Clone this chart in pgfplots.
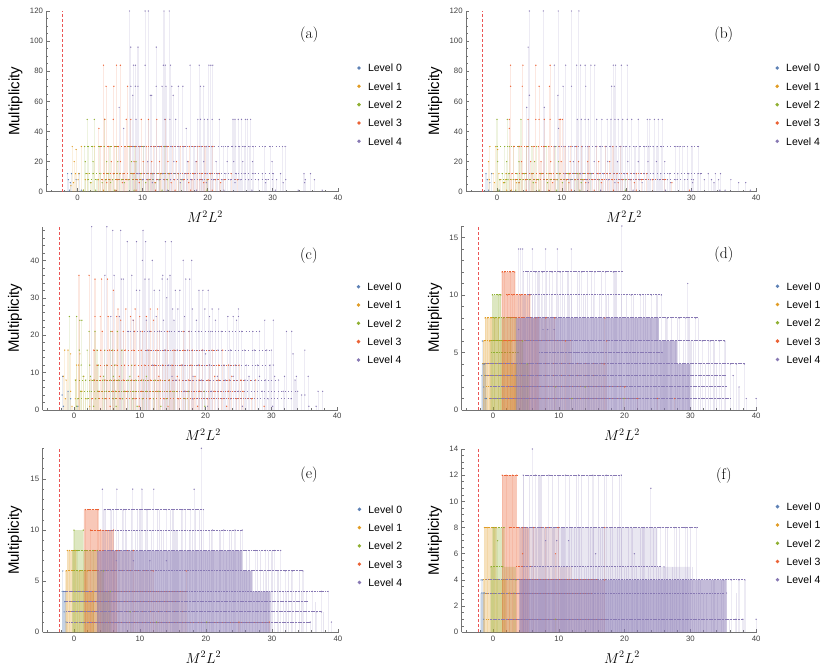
\documentclass[border=0pt]{standalone}
\usepackage{fontspec}
\setsansfont{Liberation Sans}
\usepackage{pgfplots}
\pgfplotsset{compat=1.18}
\definecolor{c0}{RGB}{94,129,181}
\definecolor{c1}{RGB}{225,156,36}
\definecolor{c2}{RGB}{143,176,50}
\definecolor{c3}{RGB}{235,98,53}
\definecolor{c4}{RGB}{135,120,179}
\definecolor{dashred}{RGB}{235,85,85}
\pgfplotsset{
 panel/.style={
  scale only axis, anchor=south west,
  axis lines=left, axis line style={-, draw=black!55, line width=0.5pt},
  xmin=-4.75, xmax=40.1, ymin=0,
  xtick={0,10,20,30,40}, minor xtick={-4,-2,...,40},
  tick style={black!55, line width=0.5pt},
  major tick length=3.2pt, minor tick length=1.8pt,
  tick align=inside,
  tick label style={font=\sffamily\fontsize{7.8}{9}\selectfont, text=black!75},
  /pgf/number format/assume math mode=true,
  xlabel={$M^2L^2$}, ylabel={Multiplicity},
  xlabel style={font=\fontsize{14}{16}\selectfont, at={(rel axis cs:0.543,0)}, anchor=center, yshift=-25pt},
  clip=false,
  legend style={draw=none, fill=none, inner sep=0pt, font=\sffamily\fontsize{10.5}{12}\selectfont,
    row sep=10.5pt, anchor=north west, legend cell align=left,
    nodes={inner sep=0pt, text height=7.8pt, text depth=0pt}},
  legend image code/.code={\fill[##1, draw=none] (1.5pt,0pt) circle (1.9pt); \path[draw=none, fill=none] (0pt,-1.6pt) rectangle (10.5pt,1.6pt);},
 },
 ylab/.style={ylabel style={font=\sffamily\fontsize{15}{17}\selectfont, at={(rel axis cs:0,0.5)}, anchor=center, yshift=#1}},
 leg/.style={legend style={at={(rel axis cs:1.063,#1)}}},
 stem/.style={ycomb, forget plot, line width=1.1pt, draw opacity=0.15, mark=*, mark size=0.7pt, mark options={draw opacity=0, fill opacity=1}},
 bare/.style={ycomb, forget plot, line width=1.1pt, draw opacity=0.2, no marks},
 rowl/.style={forget plot, no marks, line width=1.0pt, dash pattern=on 1.1pt off 0.5pt},
 ar/.style={forget plot, draw=none, fill opacity=#1},
}
\newcommand\hrow[4]{\addplot[#1, rowl] coordinates {(#2,#4) (#3,#4)};}
\newcommand\srow[4]{\addplot[#1, forget plot, no marks, line width=1pt, dash pattern=on 1pt off 2.4pt] coordinates {(#2,#4) (#3,#4)};}
\newcommand\legs{%
 \addlegendimage{c0}\addlegendentry{Level 0}
 \addlegendimage{c1}\addlegendentry{Level 1}
 \addlegendimage{c2}\addlegendentry{Level 2}
 \addlegendimage{c3}\addlegendentry{Level 3}
 \addlegendimage{c4}\addlegendentry{Level 4}}
\begin{document}
\begin{tikzpicture}[x=1pt,y=1pt]
\useasboundingbox (0,0) rectangle (830,671);
% ---------------- (a)
\begin{axis}[panel, at={(46.5pt,479.3pt)}, width=292pt, height=180.7pt, ymax=120,
  ytick={0,20,...,120}, minor ytick={0,5,...,120}, ylab=31pt, leg=0.707]
\legs
\addplot[dashred, line width=0.6pt, dash pattern=on 3pt off 2pt, forget plot] coordinates {(-2.25,0) (-2.25,120)};
\addplot[stem, c0] coordinates {(-1.5,12)(-0.9,12)(-1.4,8)(-1.1,6)(-0.2,8)(0.3,12)(-1.2,1)(0.6,1)};
\addplot[stem, c1] coordinates {(-0.8,30)(-0.5,20)(-0.2,28)(0.6,30)(-0.3,12)(0.2,12)(0.1,8)(1.2,8)(-0.6,6)(0.9,1)(1.6,12)(2.1,6)(3.2,8)(4.0,1)(2.6,30)(-1.0,4)};
\srow{c2}{1}{10}{30}\srow{c2}{1.3}{15}{12}\srow{c2}{1.6}{14}{8}
\addplot[stem, c2] coordinates {(1.5,48)(2.6,48)(4.2,48)(1.1,30)(1.7,30)(2.3,30)(3.4,30)(4.1,30)(5.0,30)(6.0,30)(8.0,30)(8.8,30)(10.2,30)(13.4,30)(1.2,20)(2.4,20)(4.5,20)(6.2,20)(8.3,20)(9.0,20)(1.3,12)(2.4,12)(3.6,12)(4.8,12)(5.6,12)(6.5,12)(8.5,12)(9.7,12)(11.5,12)(12.8,12)(14.0,12)(15.5,12)(1.6,8)(3.0,8)(4.3,8)(5.4,8)(6.8,8)(7.8,8)(9.9,8)(11.0,8)(12.6,8)(13.8,8)(16.0,8)(19.9,8)(2.0,6)(3.8,6)(5.1,6)(7.2,6)(10.5,6)(12.0,6)(0.9,1)(2.8,1)(5.7,1)(8.7,1)(13.0,1)(19.9,1)};
\srow{c3}{3.5}{21}{30}\srow{c3}{4}{22}{12}\srow{c3}{3.8}{24.6}{8}
\addplot[stem, c3] coordinates {(4.0,84)(6.0,84)(6.6,84)(4.4,70)(5.6,70)(7.7,70)(3.3,42)(4.2,48)(5.5,48)(7.5,48)(8.2,48)(9.8,48)(10.9,48)(12.2,48)(13.5,48)
(3.6,30)(4.8,30)(5.7,30)(6.3,30)(7.3,30)(8.1,30)(8.9,30)(9.5,30)(10.6,30)(11.7,30)(12.9,30)(13.8,30)(14.6,30)(15.8,30)(17.2,30)(18.5,30)(19.6,30)(20.8,30)
(5.2,20)(6.6,20)(8.7,20)(10.1,20)(11.4,20)(12.6,20)(13.9,20)(15.2,20)(17.0,20)(18.3,20)
(4.1,12)(5.5,12)(7.0,12)(8.6,12)(9.9,12)(11.3,12)(12.7,12)(14.1,12)(15.5,12)(16.7,12)(17.8,12)(19.0,12)(20.4,12)(21.8,12)(23.6,12)
(3.8,8)(5.0,8)(6.2,8)(7.6,8)(9.2,8)(10.8,8)(12.2,8)(13.4,8)(14.9,8)(16.3,8)(17.6,8)(18.8,8)(20.0,8)(21.2,8)(22.5,8)(24.6,8)
(4.5,6)(6.9,6)(9.5,6)(11.9,6)(14.4,6)(17.1,6)(19.4,6)(22.0,6)(5.9,1)(9.0,1)(12.0,1)(15.0,1)(17.4,1)(20.7,1)};
\srow{c4}{8.5}{32}{30}\srow{c4}{9}{30}{12}\srow{c4}{10}{30}{8}
\addplot[stem, c4] coordinates {(8.0,120)(10.4,120)(10.9,120)(13.3,120)(14.1,120)(8.2,96)(9.3,96)(12.1,96)
(8.6,84)(8.9,84)(10.4,84)(13.2,84)(13.5,84)(14.3,84)(17.3,84)(18.7,84)(20.2,84)(20.5,84)(20.8,84)
(8.2,70)(8.9,70)(9.3,70)(12.1,70)(13.0,70)(13.6,70)(14.5,70)(15.5,70)(16.2,70)(18.9,70)(19.4,70)
(8.5,64)(11.2,64)(11.4,64)(14.7,64)(6.4,56)(7.1,42)(16.7,42)
(9.0,48)(13.4,48)(14.2,48)(15.1,48)(18.5,48)(18.9,48)(19.5,48)(20.0,48)(20.7,48)(21.8,48)(23.9,48)(24.2,48)(24.7,48)(25.2,48)(25.8,48)(26.1,48)(26.6,48)
(8.5,30)(9.6,30)(10.2,30)(11.8,30)(12.6,30)(13.7,30)(14.4,30)(15.6,30)(16.3,30)(17.9,30)(18.4,30)(19.0,30)(19.8,30)(20.6,30)(22.4,30)(23.1,30)(23.8,30)(24.3,30)(24.9,30)(25.6,30)(26.5,30)(27.0,30)(28.8,30)(29.6,30)(31.5,30)(31.9,30)
(10.8,20)(14.8,20)(16.9,20)(18.2,20)(19.4,20)(21.3,20)(23.0,20)(24.0,20)(25.4,20)(26.9,20)(29.9,20)
(9.3,12)(11.6,12)(13.1,12)(15.0,12)(16.5,12)(18.0,12)(19.9,12)(21.5,12)(22.8,12)(24.4,12)(25.6,12)(27.1,12)(28.4,12)(30.1,12)(31.2,12)(34.8,12)(35.8,12)
(10.0,8)(12.4,8)(14.3,8)(16.1,8)(17.5,8)(19.2,8)(20.9,8)(22.2,8)(23.5,8)(25.0,8)(26.3,8)(27.8,8)(29.1,8)(30.6,8)(32.0,8)(35.0,8)(36.4,8)
(11.5,6)(15.8,6)(19.8,6)(24.2,6)(28.9,6)(31.6,6)(34.9,6)(13.8,1)(18.3,1)(22.5,1)(26.8,1)(30.4,1)(33.9,1)(37.6,1)};
\node[font=\rmfamily\fontsize{15.5}{17}\selectfont] at (axis cs:35.6,104) {(a)};
\end{axis}
% ---------------- (b)
\begin{axis}[panel, at={(466.2pt,479.3pt)}, width=290.6pt, height=180.7pt, ymax=120,
  ytick={0,20,...,120}, minor ytick={0,5,...,120}, ylab=31pt, leg=0.707]
\legs
\addplot[dashred, line width=0.6pt, dash pattern=on 3pt off 2pt, forget plot] coordinates {(-2.25,0) (-2.25,120)};
\addplot[stem, c0] coordinates {(-1.7,12)(-0.8,12)(-1.5,8)(-1.1,6)(0.4,1)(-1.3,1)};
\addplot[stem, c1] coordinates {(-1.1,30)(-0.2,30)(0.1,28)(-1.3,20)(-0.6,12)(0.3,12)(1.4,12)(-1.2,8)(0.6,8)(1.3,8)(-0.4,6)(1.0,6)(2.3,8)(1.5,1)(2.2,1)(3.0,6)};
\srow{c2}{0}{9}{30}\srow{c2}{0.8}{14.5}{12}\srow{c2}{0.4}{13}{8}
\addplot[stem, c2] coordinates {(0.0,48)(1.6,48)(3.7,48)(0.0,30)(1.2,30)(1.9,30)(2.6,30)(3.3,30)(4.6,30)(5.4,30)(6.1,30)(7.6,30)(9.1,30)(0.1,20)(1.5,20)(3.4,20)(5.8,20)(9.5,20)(0.8,12)(1.8,12)(3.1,12)(4.2,12)(5.3,12)(6.7,12)(7.9,12)(9.6,12)(11.0,12)(12.5,12)(14.5,12)(0.4,8)(1.7,8)(2.8,8)(4.0,8)(5.0,8)(6.4,8)(8.2,8)(9.3,8)(10.7,8)(12.1,8)(13.2,8)(15.8,8)(19.8,8)(1.2,6)(3.4,6)(5.6,6)(7.8,6)(10.1,6)(13.0,6)(0.3,1)(2.9,1)(6.5,1)(9.2,1)(12.8,1)(19.8,1)};
\srow{c3}{2.6}{19}{30}\srow{c3}{2.3}{23}{12}\srow{c3}{2.9}{26}{8}
\addplot[stem, c3] coordinates {(2.1,84)(4.0,84)(6.0,84)(8.2,84)(2.1,70)(3.9,70)(6.5,70)(8.1,70)(1.9,48)(4.8,48)(6.0,48)(6.5,48)(7.3,48)(8.2,48)(9.6,48)(9.8,48)(10.1,48)(1.9,42)
(2.6,30)(3.5,30)(4.6,30)(5.6,30)(6.4,30)(7.2,30)(8.0,30)(8.8,30)(9.6,30)(10.5,30)(11.4,30)(12.3,30)(13.1,30)(14.2,30)(15.4,30)(16.7,30)(17.9,30)(19.1,30)
(3.8,20)(5.2,20)(6.8,20)(8.3,20)(9.9,20)(11.3,20)(12.6,20)(14.0,20)(15.7,20)(17.4,20)
(2.3,12)(3.9,12)(5.4,12)(6.9,12)(8.4,12)(9.7,12)(11.2,12)(12.8,12)(14.1,12)(15.6,12)(17.0,12)(18.5,12)(20.1,12)(21.5,12)(23.1,12)
(2.9,8)(4.4,8)(6.1,8)(7.7,8)(9.1,8)(10.7,8)(12.0,8)(13.4,8)(14.8,8)(16.3,8)(17.8,8)(19.4,8)(20.7,8)(22.3,8)(24.0,8)(25.9,8)
(3.4,6)(6.0,6)(8.6,6)(11.1,6)(13.7,6)(16.1,6)(18.7,6)(21.2,6)(27.0,6)(4.5,1)(8.0,1)(11.5,1)(15.0,1)(18.0,1)(21.5,1)(29.7,1)};
\srow{c4}{8.9}{31}{30}\srow{c4}{10.5}{32}{12}\srow{c4}{11}{30}{8}
\addplot[stem, c4] coordinates {(5.0,120)(7.15,120)(9.45,120)(11.5,120)(12.65,120)(4.8,96)
(8.85,84)(10.6,84)(12.3,84)(12.9,84)(13.6,84)(14.5,84)(15.1,84)(17.95,84)(18.3,84)(19.2,84)(20.1,84)
(10.2,70)(11.5,70)(13.7,70)(17.7,70)(18.1,70)(5.0,64)(9.4,64)(4.6,56)(7.3,56)(9.5,42)
(12.4,48)(13.0,48)(13.6,48)(14.1,48)(15.4,48)(16.2,48)(17.0,48)(17.6,48)(18.2,48)(18.7,48)(19.4,48)(20.1,48)(20.8,48)(21.8,48)(23.2,48)(23.6,48)(24.3,48)(24.9,48)(25.5,48)
(8.9,30)(10.3,30)(11.1,30)(12.0,30)(13.2,30)(14.0,30)(15.3,30)(16.0,30)(16.8,30)(17.5,30)(18.4,30)(19.1,30)(19.8,30)(20.5,30)(21.3,30)(22.0,30)(22.8,30)(23.4,30)(24.1,30)(24.7,30)(25.4,30)(27.6,30)(28.1,30)(28.7,30)(29.4,30)(30.1,30)(31.1,30)
(11.8,20)(15.0,20)(17.1,20)(18.6,20)(20.2,20)(21.8,20)(23.3,20)(24.6,20)(25.9,20)
(10.5,12)(12.9,12)(14.6,12)(16.4,12)(18.0,12)(19.7,12)(21.2,12)(22.7,12)(24.1,12)(25.3,12)(26.6,12)(27.9,12)(29.6,12)(31.0,12)(31.4,12)(32.6,12)(33.7,12)(34.5,12)
(11.3,8)(13.8,8)(15.7,8)(17.2,8)(19.0,8)(20.6,8)(22.0,8)(23.7,8)(25.1,8)(26.3,8)(27.6,8)(29.0,8)(30.3,8)(32.0,8)(33.1,8)(34.2,8)(36.1,8)
(14.1,6)(18.2,6)(22.4,6)(26.8,6)(30.2,6)(33.5,6)(37.3,6)(38.4,6)(16.0,1)(21.0,1)(26.0,1)(30.0,1)(34.4,1)(35.2,1)(39.1,1)};
\node[font=\rmfamily\fontsize{15.5}{17}\selectfont] at (axis cs:35.0,104) {(b)};
\end{axis}
% ---------------- (c)
\begin{axis}[panel, at={(42.7pt,261pt)}, width=295.1pt, height=183.3pt, ymax=49,
  ytick={0,10,...,40}, minor ytick={0,2,...,48}, ylab=27.7pt, leg=0.695]
\legs
\addplot[dashred, line width=0.6pt, dash pattern=on 3pt off 2pt, forget plot] coordinates {(-2.25,0) (-2.25,49)};
\addplot[stem, c0] coordinates {(-1.8,4)(-1.6,1)(-0.9,5)(0.6,1)(-0.5,3)(-1.7,9)};
\addplot[stem, c1] coordinates {(-1.4,16)(-0.9,16)(-0.5,15)(0.9,15)(0.4,12)(0.7,12)(-1.6,9)(-1.2,8)(0.3,8)(-0.5,5)(1.2,5)(-1.3,3)(0.2,3)(1.8,3)(2.6,8)(-0.3,1)(2.4,1)(1.5,9)};
\srow{c2}{0.2}{14}{8}\srow{c2}{1}{19.8}{5}\srow{c2}{0.6}{17}{3}
\addplot[stem, c2] coordinates {(-0.7,25)(0.4,25)(1.2,24)(0.9,24)(2.3,21)(3.2,21)(5.6,21)(6.6,21)(0.8,16)(2.0,16)(3.5,16)(4.7,16)(5.9,16)(7.3,16)(1.1,12)(2.4,12)(3.7,12)(5.0,12)(6.2,12)(8.8,12)(1.4,9)(2.5,9)(4.5,9)(6.0,9)(8.5,9)(11.0,9)(0.2,8)(1.8,8)(3.0,8)(4.4,8)(5.5,8)(6.8,8)(8.2,8)(9.4,8)(10.6,8)(12.3,8)(14.5,8)(1.0,5)(2.4,5)(3.6,5)(4.9,5)(6.3,5)(7.7,5)(9.1,5)(11.0,5)(12.8,5)(15.2,5)(17.4,5)(19.8,5)(0.6,3)(2.0,3)(3.3,3)(4.6,3)(6.0,3)(7.4,3)(8.9,3)(10.4,3)(12.1,3)(14.0,3)(17.0,3)(0.4,1)(3.0,1)(6.4,1)(9.6,1)(13.2,1)(19.9,1)};
\srow{c3}{3}{22}{16}\srow{c3}{3.5}{25}{12}\srow{c3}{3}{27}{8}\srow{c3}{3.8}{25.7}{5}\srow{c3}{2.7}{27}{3}
\addplot[stem, c3] coordinates {(0.76,36)(2.3,36)(3.2,35)(4.2,35)(5.1,35)(6.0,32)(6.7,27)(7.9,27)(9.3,27)(11.6,27)(12.7,27)(3.2,25)(4.0,25)(5.2,25)(6.5,25)(8.6,25)(10.0,25)(11.0,25)(7.1,24)(9.0,24)(12.1,24)(4.3,21)(5.8,21)(7.5,21)(9.2,21)(10.4,21)(11.7,21)(13.0,21)(14.2,21)(16.6,21)(17.5,21)
(3.0,16)(4.1,16)(5.4,16)(6.6,16)(7.8,16)(9.0,16)(10.2,16)(11.4,16)(12.6,16)(13.9,16)(15.2,16)(16.7,16)(18.0,16)(19.5,16)(21.0,16)(22.6,16)
(3.5,12)(5.0,12)(6.4,12)(7.7,12)(9.3,12)(10.7,12)(12.2,12)(13.5,12)(14.9,12)(16.3,12)(17.8,12)(19.1,12)(20.6,12)(22.0,12)(23.5,12)(25.1,12)
(4.0,9)(6.9,9)(9.8,9)(12.9,9)(15.7,9)(18.4,9)(21.4,9)(24.0,9)
(3.1,8)(4.7,8)(6.2,8)(7.5,8)(8.8,8)(10.3,8)(11.6,8)(13.1,8)(14.5,8)(16.0,8)(17.4,8)(19.0,8)(20.4,8)(22.0,8)(23.6,8)(25.4,8)(27.6,8)
(3.8,5)(5.9,5)(8.1,5)(10.3,5)(12.5,5)(14.7,5)(16.9,5)(19.1,5)(21.3,5)(23.5,5)(25.7,5)
(2.7,3)(4.9,3)(7.1,3)(9.3,3)(11.5,3)(13.7,3)(15.9,3)(18.1,3)(20.3,3)(22.5,3)(24.7,3)(27.0,3)
(5.5,1)(9.9,1)(14.3,1)(18.8,1)(23.2,1)(28.9,1)};
\srow{c4}{8}{28}{21}\srow{c4}{11}{30}{16}\srow{c4}{12}{30}{12}\srow{c4}{15}{31}{8}\srow{c4}{16}{34}{5}\srow{c4}{18}{33}{3}
\addplot[stem, c4] coordinates {(2.7,49)(5.0,49)(5.9,48)(7.1,48)(10.5,48)(8.1,45)(9.5,45)(10.9,45)(13.9,45)(14.8,45)(10.4,40)(11.9,40)(16.6,40)(17.9,40)(4.7,36)(6.1,36)(8.8,36)(13.5,36)(14.6,36)(7.2,35)(7.5,35)(10.8,35)(11.4,35)(13.4,35)(14.2,35)(17.0,35)(17.6,35)(9.5,32)(10.0,32)(12.2,32)(13.0,32)(15.4,32)(16.1,32)(19.0,32)(19.6,32)(20.4,32)(14.1,30)
(15.0,27)(15.8,27)(18.0,27)(19.9,27)(21.0,27)(22.0,27)(25.0,27)
(5.6,25)(6.9,25)(12.5,25)(16.8,25)(20.6,25)(23.4,25)(24.2,25)(25.0,25)
(9.0,24)(11.0,24)(13.6,24)(15.2,24)(18.6,24)(21.5,24)(24.7,24)(29.0,24)(30.3,24)
(8.3,21)(10.1,21)(11.5,21)(13.0,21)(14.5,21)(16.0,21)(17.5,21)(19.0,21)(20.8,21)(22.4,21)(23.6,21)(25.5,21)(27.2,21)(28.2,21)(32.3,21)(33.1,21)
(11.2,16)(13.8,16)(15.7,16)(17.3,16)(19.6,16)(21.9,16)(23.8,16)(25.9,16)(27.4,16)(29.3,16)(30.0,16)(35.1,16)(20.0,15)(33.3,15)
(11.9,12)(14.4,12)(16.5,12)(18.9,12)(20.6,12)(22.8,12)(24.5,12)(26.2,12)(27.9,12)(29.8,12)(30.3,12)
(14.9,9)(18.1,9)(21.8,9)(24.2,9)(26.6,9)(28.2,9)(30.5,9)(32.0,9)(33.8,9)(35.6,9)
(15.5,8)(19.4,8)(23.0,8)(26.0,8)(29.1,8)(31.1,8)(33.6,8)
(16.8,5)(20.9,5)(25.0,5)(28.6,5)(31.8,5)(34.0,5)(37.1,5)(37.8,5)(34.6,4)(35.1,4)
(18.0,3)(23.8,3)(29.5,3)(33.0,3)(20.3,1)(25.6,1)(30.2,1)(35.7,1)(36.8,1)};
\node[font=\rmfamily\fontsize{15.5}{17}\selectfont] at (axis cs:35.7,41.3) {(c)};
\end{axis}
% ---------------- (d)
\begin{axis}[panel, at={(461.7pt,261pt)}, width=295.1pt, height=184pt, ymax=16,
  ytick={0,5,10,15}, minor ytick={0,1,...,16}, ylab=26.7pt, leg=0.695]
\legs
\addplot[dashred, line width=0.6pt, dash pattern=on 3pt off 2pt, forget plot] coordinates {(-2.25,0) (-2.25,16)};
\addplot[fill=c0, ar=0.25] coordinates {(-1.7,0)(-1.7,4)(-1.0,4)(-1.0,0)} \closedcycle;
\addplot[stem, c0] coordinates {(-1.7,3)(-1.6,6)(-1.5,4)(-1.4,2)(-1.3,4)(-1.2,1)(-1.1,3)(-1.0,1)};
\addplot[fill=c1, ar=0.3] coordinates {(-1.5,0)(-1.5,6)(-1.2,6)(-1.2,8)(0.9,8)(0.9,6)(2.8,6)(2.8,4)(3.6,4)(3.6,0)} \closedcycle;
\hrow{c1}{-1.2}{0.9}{8}\hrow{c1}{-1.4}{2.8}{6}\hrow{c1}{-1.6}{3.5}{4}\hrow{c1}{-1.3}{3.0}{3}\hrow{c1}{-1.0}{3.2}{2}\hrow{c1}{-0.6}{3.4}{1}
\addplot[stem, c1] coordinates {(-1.2,8)(-0.8,8)(-0.3,8)(0.3,8)(0.9,8)(-1.4,6)(-0.5,6)(1.5,6)(2.2,6)(2.8,6)(3.5,4)(3.2,3)};
\addplot[fill=c2, ar=0.3] coordinates {(-0.4,0)(-0.4,6)(-0.1,6)(-0.1,10)(1.2,10)(1.2,8)(3.5,8)(3.5,6)(4.6,6)(4.6,4)(5.5,4)(5.5,0)} \closedcycle;
\hrow{c2}{-0.1}{1.2}{10}\hrow{c2}{0}{3.5}{8}\hrow{c2}{-0.3}{4.5}{6}\hrow{c2}{-0.3}{4.0}{5}\hrow{c2}{0}{5.5}{4}\hrow{c2}{0}{5}{3}\hrow{c2}{0}{5}{2}\hrow{c2}{0.3}{5.4}{1}
\addplot[stem, c2] coordinates {(-0.1,10)(0.8,10)(1.2,10)(0.2,8)(1.6,8)(2.7,8)(3.5,8)(4.5,6)(5.2,4)(9.5,2)(12,1)(19.9,1)(14,2)};
\addplot[fill=c3, ar=0.35] coordinates {(1.3,0)(1.3,12)(3.4,12)(3.4,10)(5.7,10)(5.7,8)(7,8)(7,0)} \closedcycle;
\addplot[fill=c3, ar=0.12] coordinates {(7,0)(7,8)(9.5,8)(9.5,6)(12,6)(12,4)(17.2,4)(17.2,0)} \closedcycle;
\hrow{c3}{1.4}{3.3}{12}\hrow{c3}{2}{5.6}{10}\hrow{c3}{2.3}{9.4}{8}\hrow{c3}{1.5}{12}{6}\hrow{c3}{1.5}{17}{4}\hrow{c3}{2}{16}{3}\hrow{c3}{2}{20}{2}\hrow{c3}{2}{22}{1}
\addplot[stem, c3] coordinates {(1.4,12)(1.8,12)(2.6,12)(3.3,12)(2.2,10)(3.0,10)(4.2,10)(5.6,10)(6.5,8)(8.0,8)(9.4,8)(11,6)(17,8)(16.9,4)(17.3,6)(20,2)(22,1)(25,1)(27.6,1)};
\addplot[fill=c4, ar=0.5] coordinates {(3.5,0)(3.5,8)(25.2,8)(25.2,6)(28,6)(28,4)(30,4)(30,0)} \closedcycle;
\hrow{c4}{4.6}{19.8}{12}\hrow{c4}{5.1}{25.6}{10}\hrow{c4}{5}{31.2}{8}\hrow{c4}{5}{35.3}{6}\hrow{c4}{7}{25.7}{5}\hrow{c4}{-1.2}{38.3}{4}\hrow{c4}{-1.2}{35.5}{3}\hrow{c4}{-0.5}{35.5}{2}\hrow{c4}{-0.5}{36}{1}
\addplot[bare, c4] coordinates {(4.8,10)(5.3,12)(5.8,8)(6.3,10)(6.8,12)(7.2,6)(7.9,10)(8.6,12)(9.3,8)(10.0,10)(10.6,12)(11.2,6)(11.7,10)(12.3,8)(12.9,12)(13.8,10)(14.6,6)(15.0,12)(16.2,10)(16.8,8)(17.6,10)(18.7,12)(19.2,8)(20.3,10)(20.9,6)(21.7,8)(22.9,10)(23.5,8)(24.6,6)(25.0,10)(26.0,6)(27.2,8)(27.8,6)(28.8,4)(30.1,6)(31.2,8)(32.3,4)(33.6,6)(34.8,4)(35.3,6)
(4.6,12)(5.0,10)(5.6,12)(6.0,10)(6.6,8)(7.0,12)(7.4,10)(8.2,12)(8.9,10)(9.6,12)(10.3,8)(10.9,10)(11.4,12)(12.0,10)(12.6,8)(13.2,12)(14.0,10)(14.3,12)(15.3,10)(15.8,8)(16.5,12)(17.3,10)(18.0,8)(18.5,12)(19.5,10)(20.6,8)(21.3,10)(22.0,8)(23.2,10)(24.0,8)(24.8,10)(25.4,6)(26.3,8)(27.0,6)(28.1,8)(29.0,6)(29.8,8)(30.5,6)(31.5,4)(32.8,6)(34.0,4)};
\addplot[stem, c4] coordinates {(3.9,14)(4.2,14)(4.5,14)(6.0,14)(8.0,14)(9.8,14)(11.9,14)(19.6,16)(29.6,11)(6.5,12)(7.5,12)(9.0,12)(10.2,12)(13.5,12)(15.5,12)(17.1,12)(18.3,12)(21,10)(22.4,10)(24.1,10)(25.6,10)(26.5,8)(28.3,8)(29.3,8)(30.8,8)(31.8,6)(33,6)(34.4,6)(35.2,6)(36.1,4)(37.0,4)(38.2,4)(36.5,3)(37.4,2)(38.5,1)(40.0,1)(3.9,7)(7.6,7)(8.3,7)(9.3,7)(12.5,5)(16,5)(22,5)(25.7,5)};
\node[font=\rmfamily\fontsize{15.5}{17}\selectfont] at (axis cs:35.1,13.5) {(d)};
\end{axis}
% ---------------- (e)
\begin{axis}[panel, at={(42.65pt,38.7pt)}, width=296pt, height=184pt, ymax=18,
  ytick={0,5,10,15}, minor ytick={0,1,...,18}, ylab=27.7pt, leg=0.691]
\legs
\addplot[dashred, line width=0.6pt, dash pattern=on 3pt off 2pt, forget plot] coordinates {(-2.25,0) (-2.25,18)};
\addplot[fill=c0, ar=0.25] coordinates {(-1.8,0)(-1.8,4)(-1.2,4)(-1.2,0)} \closedcycle;
\addplot[stem, c0] coordinates {(-1.7,6)(-1.8,4)(-1.6,4)(-1.4,3)(-1.3,4)(-1.5,2)(-1.2,1)};
\addplot[fill=c1, ar=0.3] coordinates {(-1.3,0)(-1.3,6)(-1.0,6)(-1.0,8)(0.4,8)(0.4,6)(2.0,6)(2.0,4)(3.0,4)(3.0,0)} \closedcycle;
\hrow{c1}{-1.0}{0.4}{8}\hrow{c1}{-1.2}{2.0}{6}\hrow{c1}{-1.3}{3.0}{4}\hrow{c1}{-1.0}{2.5}{3}\hrow{c1}{-0.8}{3}{2}\hrow{c1}{-0.5}{3}{1}
\addplot[stem, c1] coordinates {(-1.0,8)(-0.7,8)(0.2,8)(-1.2,6)(0.8,6)(2.0,6)(3.0,4)};
\addplot[fill=c2, ar=0.3] coordinates {(-0.3,0)(-0.3,8)(0.0,8)(0.0,10)(1.4,10)(1.4,8)(3.5,8)(3.5,6)(4.5,6)(4.5,4)(5.5,4)(5.5,0)} \closedcycle;
\hrow{c2}{-0.2}{3.5}{8}\hrow{c2}{0}{4.5}{6}\hrow{c2}{0}{5.5}{4}\hrow{c2}{0}{5}{3}\hrow{c2}{0}{5}{2}\hrow{c2}{0.5}{6}{1}
\addplot[stem, c2] coordinates {(0,10)(1.4,10)(0.5,8)(1.7,8)(2.9,8)(3.5,8)(4.5,6)(5.5,4)(20.1,1)(12.5,1)(8.5,2)};
\addplot[fill=c3, ar=0.35] coordinates {(1.5,0)(1.5,12)(3.7,12)(3.7,10)(6.0,10)(6.0,8)(6.5,8)(6.5,0)} \closedcycle;
\addplot[fill=c3, ar=0.12] coordinates {(6.5,0)(6.5,8)(9.0,8)(9.0,6)(12,6)(12,4)(17,4)(17,0)} \closedcycle;
\hrow{c3}{1.7}{3.7}{12}\hrow{c3}{2.5}{6.0}{10}\hrow{c3}{3.0}{9.0}{8}\hrow{c3}{2}{12}{6}\hrow{c3}{2}{17}{4}\hrow{c3}{2}{16}{3}\hrow{c3}{2}{17}{2}\hrow{c3}{2}{29.6}{1}
\addplot[stem, c3] coordinates {(1.7,12)(3.5,12)(3.7,12)(2.5,10)(4.0,10)(6.0,10)(6.5,8)(9.0,8)(12,6)(17,6)(29.6,1)(25,1)};
\addplot[fill=c4, ar=0.5] coordinates {(3.5,0)(3.5,8)(25.5,8)(25.5,6)(27,6)(27,4)(29.8,4)(29.8,0)} \closedcycle;
\hrow{c4}{4.5}{19.6}{12}\hrow{c4}{5}{25.5}{10}\hrow{c4}{4.5}{31.3}{8}\hrow{c4}{4}{34.7}{6}\hrow{c4}{-1.5}{38.5}{4}\hrow{c4}{-1.3}{35.5}{3}\hrow{c4}{-1.2}{37.5}{2}\hrow{c4}{-1.0}{35.8}{1}
\addplot[bare, c4] coordinates {(4.8,12)(5.4,10)(6.0,12)(6.9,8)(7.3,12)(8.0,10)(8.5,6)(9.6,12)(10.8,10)(11.4,8)(12.6,12)(13.2,10)(13.8,6)(14.6,12)(15.3,10)(15.9,8)(16.9,12)(17.9,10)(18.6,8)(19.0,12)(20.2,8)(20.8,10)(21.6,6)(22.2,10)(23.1,8)(23.8,10)(24.9,8)(25.9,6)(26.6,8)(28.2,8)(28.7,6)(29.5,8)(30.8,6)(31.7,4)(32.5,6)(33.5,4)(34.2,6)(35.2,4)(36.6,3)(37.8,2)
(4.5,12)(5.1,10)(5.7,12)(6.2,8)(6.7,10)(7.8,12)(8.3,8)(8.7,12)(9.3,10)(10.0,12)(10.5,8)(11.1,12)(11.8,10)(12.3,8)(13.0,12)(13.5,10)(14.2,8)(15.0,12)(15.6,10)(16.3,12)(17.2,8)(17.5,10)(18.4,12)(19.3,10)(19.9,8)(20.5,10)(21.2,8)(22.0,10)(22.9,6)(23.5,10)(24.2,8)(25.2,10)(26.2,8)(27.0,6)(27.8,8)(29.2,6)(30.0,8)(31.0,6)(32.2,4)(33.0,6)(34.5,4)};
\addplot[stem, c4] coordinates {(4.3,14)(6.5,14)(8.9,14)(10.3,14)(12.1,14)(18.2,14)(19.3,18)(4.6,12)(5.5,12)(7.5,12)(11,12)(14,12)(16.5,12)(17.6,12)(19.6,12)(21,10)(22.7,10)(24.4,10)(25.5,10)(27.5,8)(29,8)(30.4,8)(31.3,8)(32,6)(33.1,6)(34.7,6)(36.1,4)(37.5,4)(38.5,4)(36.8,2)(37.5,2)(39.0,1)(35.8,1)(6.4,7)(9,7)(11.5,7)(14,7)};
\node[font=\rmfamily\fontsize{15.5}{17}\selectfont] at (axis cs:35.6,15.4) {(e)};
\end{axis}
% ---------------- (f)
\begin{axis}[panel, at={(461.7pt,38.7pt)}, width=295.1pt, height=183.3pt, ymax=14,
  ytick={0,2,...,14}, minor ytick={0,0.5,...,14}, ylab=26.7pt, leg=0.708]
\legs
\addplot[dashred, line width=0.6pt, dash pattern=on 3pt off 2pt, forget plot] coordinates {(-2.25,0) (-2.25,14)};
\addplot[fill=c0, ar=0.25] coordinates {(-1.9,0)(-1.9,3)(-1.3,3)(-1.3,0)} \closedcycle;
\addplot[stem, c0] coordinates {(-1.8,4)(-1.7,3)(-1.6,4)(-1.5,3)(-1.4,1)(-1.3,3)};
\addplot[fill=c1, ar=0.3] coordinates {(-1.5,0)(-1.5,4)(-1.3,4)(-1.3,8)(0.5,8)(0.5,4)(2.0,4)(2.0,0)} \closedcycle;
\hrow{c1}{-1.3}{0.5}{8}\hrow{c1}{-1.5}{2.5}{4}\hrow{c1}{-1.2}{2.5}{3}\hrow{c1}{-1.0}{2.5}{1}
\addplot[stem, c1] coordinates {(-1.3,8)(-0.8,8)(0.2,8)(0.5,8)(1.5,4)(2.5,3)};
\addplot[fill=c2, ar=0.3] coordinates {(-0.3,0)(-0.3,5)(0,5)(0,8)(1.7,8)(1.7,5)(3.5,5)(3.5,0)} \closedcycle;
\hrow{c2}{0}{1.7}{8}\hrow{c2}{-0.3}{1.5}{5}\hrow{c2}{0}{3.5}{4}\hrow{c2}{0}{3.5}{3}\hrow{c2}{0}{4}{1}
\addplot[stem, c2] coordinates {(0,8)(1.7,8)(0.7,7)(-0.3,5)(1.5,5)(3.5,4)(3.2,3)(9.5,1)};
\addplot[fill=c3, ar=0.35] coordinates {(1.4,0)(1.4,12)(3.6,12)(3.6,8)(5.5,8)(5.5,0)} \closedcycle;
\addplot[fill=c3, ar=0.1] coordinates {(5.5,0)(5.5,8)(10,8)(10,5)(12,5)(12,4)(17,4)(17,0)} \closedcycle;
\hrow{c3}{1.4}{3.6}{12}\hrow{c3}{2.5}{10}{8}\hrow{c3}{3.5}{6}{5}\hrow{c3}{3}{16}{4}\hrow{c3}{2.5}{15}{3}\hrow{c3}{2}{17}{1}
\addplot[stem, c3] coordinates {(1.4,12)(2.0,12)(3.0,12)(3.6,12)(2.5,8)(4.5,8)(6.2,8)(8.0,8)(10,8)(17,8)(4.5,6)(9.5,6)(17,4)};
\addplot[fill=c4, ar=0.5] coordinates {(4,0)(4,4)(35.5,4)(35.5,0)} \closedcycle;
\addplot[fill=c4, ar=0.18] coordinates {(4,0)(4,8)(25,8)(25,5)(30,5)(30,0)} \closedcycle;
\hrow{c4}{4.6}{19.5}{12}\hrow{c4}{4}{31}{8}\hrow{c4}{4.5}{25.6}{5}\hrow{c4}{-1}{38.3}{4}\hrow{c4}{-1}{35}{3}\hrow{c4}{-0.5}{38}{1}
\addplot[bare, c4] coordinates {(4.9,8)(5.5,12)(6.2,8)(7.0,12)(7.6,5)(8.2,8)(9.0,12)(9.4,8)(10.3,5)(10.8,8)(11.6,12)(12.4,8)(13.5,12)(14.2,5)(14.8,8)(16.0,12)(16.6,8)(17.6,5)(18.2,12)(18.9,8)(20.0,5)(20.6,8)(21.8,5)(22.4,8)(23.4,4)(24.4,8)(25.2,5)(26.5,8)(27.0,4)(28.3,8)(28.8,4)(30.0,8)(30.6,3)(31.5,4)(32.4,3)(33.2,4)(34.1,3)(34.8,4)(36.0,1)(37.0,3)
(4.7,12)(5.2,8)(5.8,5)(6.6,8)(7.3,12)(7.9,8)(8.6,5)(9.2,8)(9.9,12)(10.5,8)(11.2,5)(12.0,8)(12.7,12)(13.2,8)(13.9,5)(14.5,12)(15.3,8)(15.9,5)(16.3,8)(17.0,12)(17.9,8)(18.6,5)(19.2,12)(19.6,8)(20.3,5)(21.2,8)(22.0,4)(22.8,8)(23.7,5)(24.8,8)(25.6,4)(26.2,8)(27.3,5)(27.9,8)(29.0,4)(29.6,8)(30.3,5)(31.2,4)(32.0,3)(33.6,4)};
\addplot[stem, c4] coordinates {(6,14)(24,11)(4.6,12)(6.5,12)(8.5,12)(11,12)(13,12)(15.2,12)(17.2,12)(19.5,12)(21,8)(23,8)(25.5,8)(27.6,8)(29.3,8)(31,8)(26,5)(35,4)(36.2,4)(37.4,4)(38.3,4)(35.5,3)(38,1)(40,1)(36.9,1)(8.0,7)(9.7,7)(11.5,7)(21.5,6)(15.6,6)};
\node[font=\rmfamily\fontsize{15.5}{17}\selectfont] at (axis cs:35.1,12.0) {(f)};
\end{axis}
\end{tikzpicture}
\end{document}
